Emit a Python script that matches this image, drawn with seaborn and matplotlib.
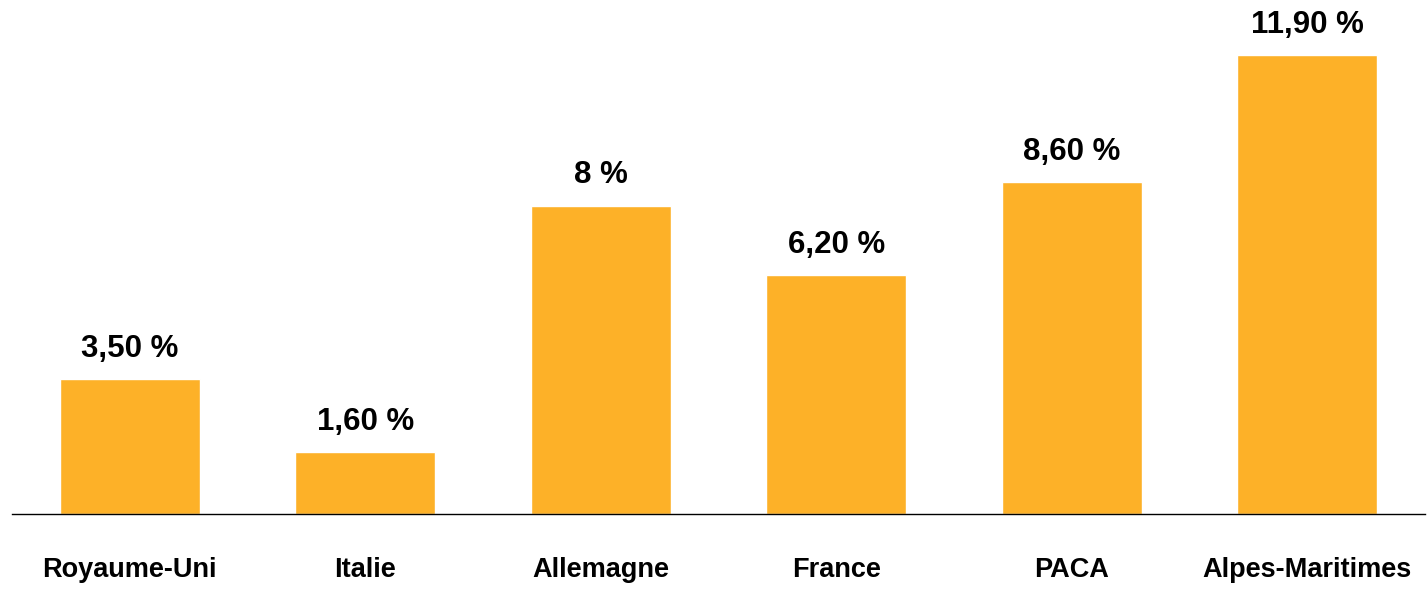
import matplotlib.pyplot as plt
import pandas as pd
import seaborn as sns

regions = ["Royaume-Uni", "Italie", "Allemagne", "France", "PACA", "Alpes-Maritimes"]
values = [3.5, 1.6, 8.0, 6.2, 8.6, 11.9]
labels = ["3,50 %", "1,60 %", "8 %", "6,20 %", "8,60 %", "11,90 %"]

BAR_COLOR = "#FDB128"

sns.set_theme(style="white")
plt.rcParams["font.family"] = ["Liberation Sans", "DejaVu Sans"]

df = pd.DataFrame({"region": regions, "value": values})

fig = plt.figure(figsize=(14.28, 5.9), dpi=100)
ax = fig.add_axes([0.0084, 0.1288, 0.9895, 0.8712])

sns.barplot(data=df, x="region", y="value", color=BAR_COLOR, width=0.595,
            saturation=1, ax=ax)

for patch, text in zip(ax.patches, labels):
    ax.annotate(text, (patch.get_x() + patch.get_width() / 2, patch.get_height()),
                xytext=(0, 11), textcoords="offset points", ha="center", va="bottom",
                fontsize=22.5, fontweight="bold", color="black")

ax.set_xlim(-0.5, 5.5)
ax.set_ylim(0, 13.33)
ax.set_xlabel("")
ax.set_ylabel("")
ax.set_yticks([])
ax.tick_params(axis="x", length=0, pad=31)
for t in ax.get_xticklabels():
    t.set_fontsize(19.5)
    t.set_fontweight("bold")
    t.set_color("black")

for side in ["top", "left", "right"]:
    ax.spines[side].set_visible(False)
ax.spines["bottom"].set_color("black")
ax.spines["bottom"].set_linewidth(1)

fig.savefig("out.png", dpi=100)
